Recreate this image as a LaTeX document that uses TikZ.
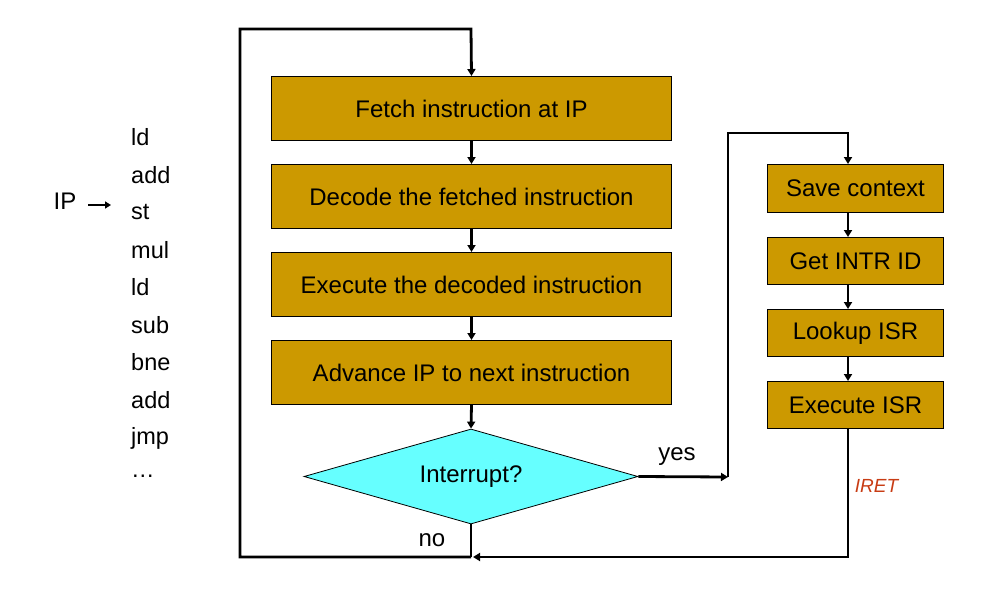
\documentclass[tikz,border=0pt]{standalone}
\usepackage{fontspec}
\setmainfont{Liberation Sans}
\usetikzlibrary{shapes.geometric,arrows.meta}
\definecolor{boxfill}{RGB}{204,153,0}
\definecolor{diafill}{RGB}{102,255,255}
\definecolor{iretcol}{RGB}{200,60,20}
\begin{document}
\begin{tikzpicture}[x=1pt,y=-1pt,
  stepbox/.style={draw=black,line width=1pt,fill=boxfill,anchor=north west,inner sep=0pt,font=\fontsize{24}{28}\selectfont},
  decbox/.style={draw=black,line width=0.8pt,fill=diafill,diamond,aspect=3.5,inner sep=0pt,minimum width=334pt,minimum height=95pt,font=\fontsize{24}{28}\selectfont},
  flow/.style={line width=2.8pt,-{Triangle[width=8pt,length=7pt]}},
  plain/.style={line width=2.8pt},
  lbl/.style={font=\fontsize{24}{28}\selectfont,inner sep=0pt},
  listtxt/.style={font=\fontsize{23.5}{28}\selectfont,anchor=west,inner sep=0pt}]
\useasboundingbox (0,0) rectangle (989,589);
% main boxes
\node[stepbox,minimum width=400pt,minimum height=64pt] (fetch) at (271,76) {Fetch instruction at IP};
\node[stepbox,minimum width=400pt,minimum height=64pt] (decode) at (271,164) {Decode the fetched instruction};
\node[stepbox,minimum width=400pt,minimum height=64pt] (exec) at (271,252) {Execute the decoded instruction};
\node[stepbox,minimum width=400pt,minimum height=64pt] (adv) at (271,340) {Advance IP to next instruction};
\node[decbox] (intr) at (471,476.5) {Interrupt?};
% right boxes
\node[stepbox,minimum width=176pt,minimum height=48pt] (save) at (767,164) {Save context};
\node[stepbox,minimum width=176pt,minimum height=47pt] (getid) at (767,237) {Get INTR ID};
\node[stepbox,minimum width=176pt,minimum height=47pt] (look) at (767,309) {Lookup ISR};
\node[stepbox,minimum width=176pt,minimum height=47pt] (eisr) at (767,381) {Execute ISR};
% coordinates
\coordinate (tl) at (240,29);
\coordinate (tr) at (471,29);
\coordinate (bl) at (240,557);
\coordinate (bm) at (471,557);
\coordinate (bend) at (473,557);
\coordinate (br) at (848,557);
\coordinate (yesend) at (728,477);
\coordinate (ytl) at (728,133);
\coordinate (ytr) at (848,133);
% main chain
\draw[flow] (fetch.south) -- (decode.north);
\draw[flow] (decode.south) -- (exec.north);
\draw[flow] (exec.south) -- (adv.north);
\draw[flow] (adv.south) -- (intr.north);
% no loop
\draw[plain] (intr.south) -- (bm);
\draw[flow,line join=miter] (bm) -- (bl) -- (tl) -- (tr) -- (fetch.north);
% yes path
\draw[flow] (intr.east) -- (yesend);
\draw[flow,line join=miter] (yesend) -- (ytl) -- (ytr) -- (save.north -| ytr);
% right chain
\draw[flow] (save.south -| ytr) -- (getid.north -| ytr);
\draw[flow] (getid.south -| ytr) -- (look.north -| ytr);
\draw[flow] (look.south -| ytr) -- (eisr.north -| ytr);
\draw[flow,line join=miter] (eisr.south -| ytr) -- (br) -- (bend);
% labels
\node[lbl] (yes) at (677,457) {yes};
\node[lbl] (no) at (432,540) {no};
\node[font=\fontsize{19}{22}\selectfont\itshape,text=iretcol,inner sep=0pt] (iret) at (876.5,486) {IRET};
% instruction list
\node[listtxt] (l1) at (131,137) {ld};
\node[listtxt] (l2) at (131,175) {add};
\node[listtxt] (l3) at (131,212) {st};
\node[listtxt] (l4) at (131,250) {mul};
\node[listtxt] (l5) at (131,287) {ld};
\node[listtxt] (l6) at (131,325) {sub};
\node[listtxt] (l7) at (131,362) {bne};
\node[listtxt] (l8) at (131,400) {add};
\node[listtxt] (l9) at (131,438) {jmp};
\node[listtxt] (l10) at (131,476) {…};
\node[lbl] (ip) at (65,201) {IP};
\coordinate (ipa) at (88,205);
\coordinate (ipb) at (111,205);
\draw[line width=2.4pt,-{Triangle[width=7pt,length=6pt]}] (ipa) -- (ipb);
\end{tikzpicture}
\end{document}
